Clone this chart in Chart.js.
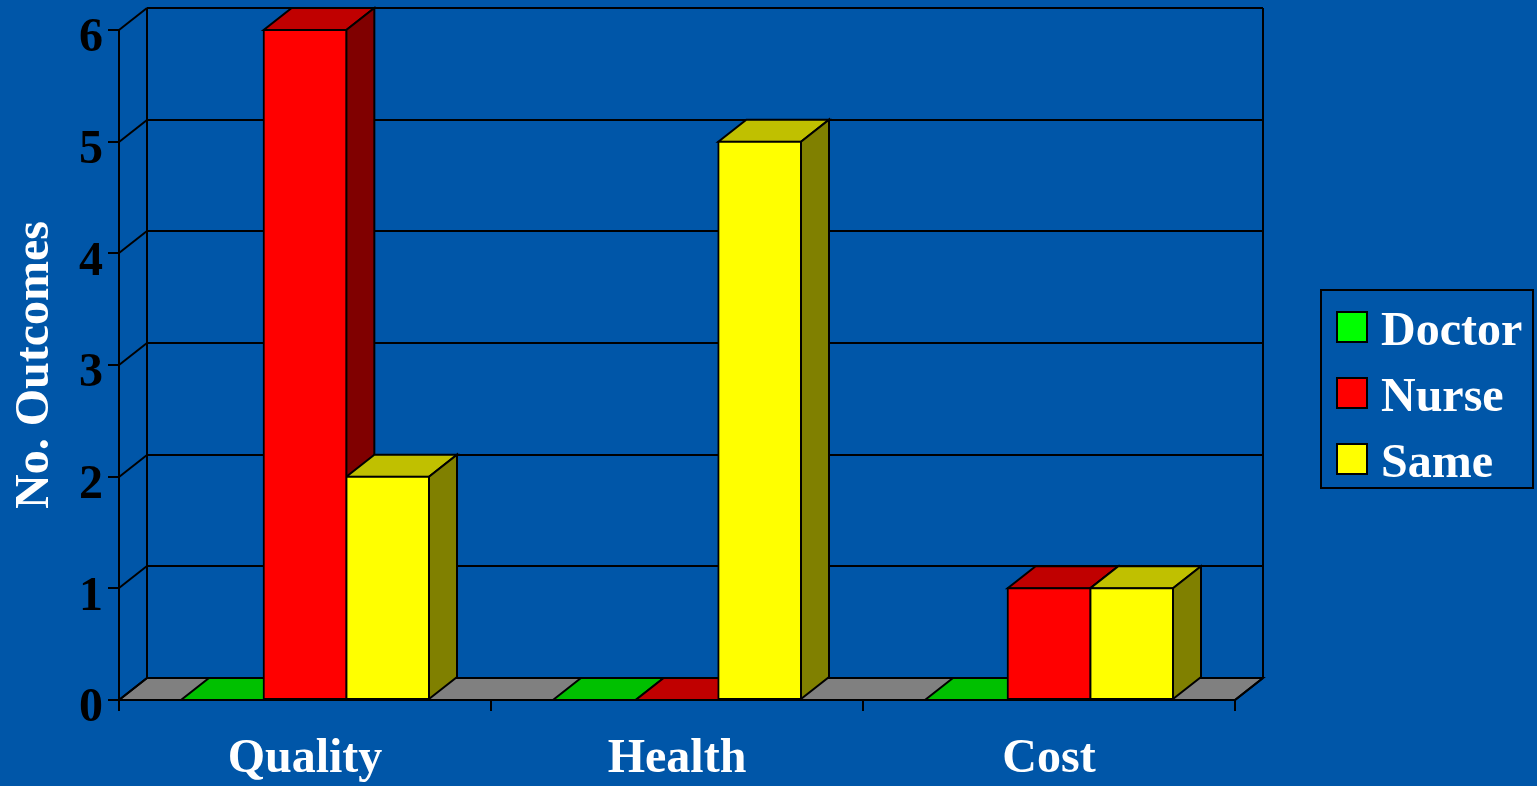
<!DOCTYPE html>
<html>
<head>
<meta charset="utf-8">
<title>No. Outcomes</title>
<script src="https://cdn.jsdelivr.net/npm/chart.js@4"></script>
<style>
    html, body { margin: 0; padding: 0; background: #0056a8; overflow: hidden; }
    canvas { display: block; }
</style>
</head>
<body>
<canvas id="outcomes" width="1537" height="786"></canvas>
<script>
const categories = ['Quality', 'Health', 'Cost'];
const doctorValues = [0, 0, 0];
const nurseValues = [6, 0, 1];
const sameValues = [2, 5, 1];
const yTicks = [0, 1, 2, 3, 4, 5, 6];

const FONT = { family: '"Liberation Serif", serif', size: 48, weight: 'bold' };
const FONT_CSS = 'bold 48px "Liberation Serif", serif';

// how far the back wall sits behind the front plane
const DEPTH_X = 28;
const DEPTH_Y = -22;

function poly(ctx, pts, fill) {
    ctx.beginPath();
    pts.forEach((p, i) => i ? ctx.lineTo(p[0], p[1]) : ctx.moveTo(p[0], p[1]));
    ctx.closePath();
    if (fill) {
        ctx.fillStyle = fill;
        ctx.fill();
    }
    ctx.stroke();
}

function line(ctx, x1, y1, x2, y2) {
    ctx.beginPath();
    ctx.moveTo(x1, y1);
    ctx.lineTo(x2, y2);
    ctx.stroke();
}

// back wall, floor and the top/side faces of the bars
const depthPlugin = {
    id: 'depth',
    beforeDatasetsDraw(chart) {
        const ctx = chart.ctx;
        const { left, right } = chart.chartArea;
        const y = chart.scales.y;
        const base = y.getPixelForValue(0);
        const top = y.getPixelForValue(6);

        ctx.save();
        ctx.strokeStyle = '#000';
        ctx.lineWidth = 2;
        ctx.lineJoin = 'miter';

        poly(ctx, [[left, base], [right, base], [right + DEPTH_X, base + DEPTH_Y], [left + DEPTH_X, base + DEPTH_Y]], '#808080');

        yTicks.forEach(v => {
            const py = Math.round(y.getPixelForValue(v));
            line(ctx, left, py, left + DEPTH_X, py + DEPTH_Y);
            if (v > 0) line(ctx, left + DEPTH_X, py + DEPTH_Y, right + DEPTH_X, py + DEPTH_Y);
        });
        line(ctx, left + DEPTH_X, base + DEPTH_Y, left + DEPTH_X, top + DEPTH_Y);
        line(ctx, right + DEPTH_X, base + DEPTH_Y, right + DEPTH_X, top + DEPTH_Y);
        line(ctx, right, base, right + DEPTH_X, base + DEPTH_Y);

        categories.forEach((c, j) => {
            chart.data.datasets.forEach((ds, i) => {
                const bar = chart.getDatasetMeta(i).data[j];
                const x1 = bar.x - bar.width / 2;
                const x2 = bar.x + bar.width / 2;
                poly(ctx, [[x1, bar.y], [x2, bar.y], [x2 + DEPTH_X, bar.y + DEPTH_Y], [x1 + DEPTH_X, bar.y + DEPTH_Y]], ds.topColor);
                if (bar.y < bar.base) {
                    poly(ctx, [[x2, bar.y], [x2 + DEPTH_X, bar.y + DEPTH_Y], [x2 + DEPTH_X, bar.base + DEPTH_Y], [x2, bar.base]], ds.sideColor);
                }
            });
        });
        ctx.restore();
    },
    afterDraw(chart) {
        // boxed legend on the right
        const ctx = chart.ctx;
        ctx.save();
        ctx.strokeStyle = '#000';
        ctx.lineWidth = 2;
        ctx.strokeRect(1321, 290, 212, 198);
        ctx.font = FONT_CSS;
        ctx.textBaseline = 'alphabetic';
        chart.data.datasets.forEach((ds, i) => {
            const rowY = 312 + i * 66;
            ctx.fillStyle = ds.backgroundColor;
            ctx.fillRect(1337, rowY, 30, 30);
            ctx.strokeRect(1337, rowY, 30, 30);
            ctx.fillStyle = '#fff';
            ctx.fillText(ds.label, 1381, rowY + 33);
        });
        ctx.restore();
    }
};

function barSet(label, values, color, topColor, sideColor) {
    return {
        label: label,
        data: values,
        backgroundColor: color,
        topColor: topColor,
        sideColor: sideColor,
        borderColor: '#000',
        borderWidth: 2,
        borderSkipped: false,
        inflateAmount: 1,
        categoryPercentage: 2 / 3,
        barPercentage: 1
    };
}

new Chart(document.getElementById('outcomes'), {
    type: 'bar',
    data: {
        labels: categories,
        datasets: [
            barSet('Doctor', doctorValues, '#00ff00', '#00c000', '#008000'),
            barSet('Nurse', nurseValues, '#ff0000', '#c00000', '#800000'),
            barSet('Same', sameValues, '#ffff00', '#c0c000', '#808000')
        ]
    },
    options: {
        responsive: false,
        animation: false,
        layout: { padding: { left: 0, right: 302, top: 30, bottom: 0 } },
        plugins: {
            legend: { display: false },
            tooltip: { enabled: false }
        },
        scales: {
            x: {
                afterFit: s => { s.height = 86; s.paddingLeft = 0; s.paddingRight = 0; },
                grid: { offset: true, drawOnChartArea: false, color: '#000', lineWidth: 2, tickLength: 11 },
                border: { color: '#000', width: 2 },
                ticks: { color: '#fff', font: FONT, padding: 20, maxRotation: 0 }
            },
            y: {
                min: 0,
                max: 6,
                afterFit: s => { s.width = 119; s.paddingTop = 0; s.paddingBottom = 0; },
                afterBuildTicks: s => { s.ticks = yTicks.map(v => ({ value: v })); },
                grid: { drawOnChartArea: false, color: '#000', lineWidth: 2, tickLength: 11 },
                border: { color: '#000', width: 2 },
                ticks: { color: '#000', font: FONT, padding: 5, labelOffset: 9 },
                title: { display: true, text: 'No. Outcomes', color: '#fff', font: FONT, padding: { top: 7, bottom: 0 } }
            }
        }
    },
    plugins: [depthPlugin]
});
</script>
</body>
</html>
